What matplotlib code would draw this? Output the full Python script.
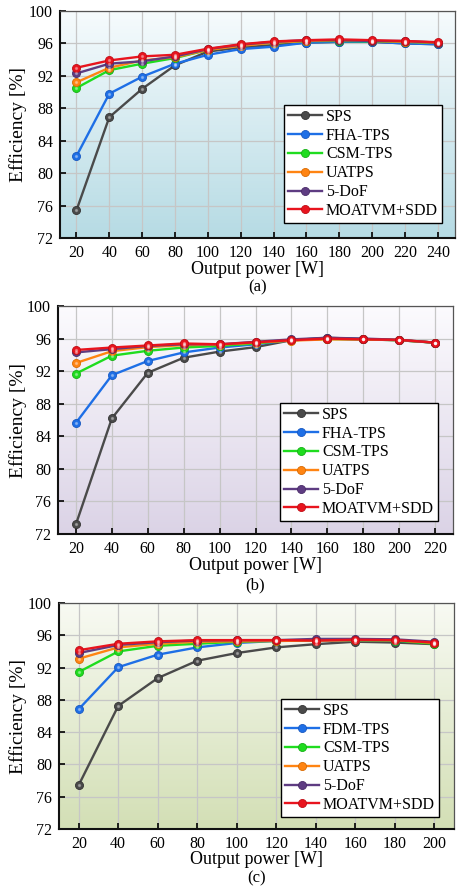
import numpy as np
import matplotlib.pyplot as plt
from matplotlib.colors import LinearSegmentedColormap

plt.rcParams['font.family'] = ['Liberation Serif', 'DejaVu Serif']
plt.rcParams['mathtext.fontset'] = 'stix'

# output power levels for each test
power_a = [20, 40, 60, 80, 100, 120, 140, 160, 180, 200, 220, 240]
power_b = [20, 40, 60, 80, 100, 120, 140, 160, 180, 200, 220]
power_c = [20, 40, 60, 80, 100, 120, 140, 160, 180, 200]

# efficiency [%], test (a)
sps_a = [75.4, 86.9, 90.4, 93.3, 95.0, 95.5, 95.8, 96.1, 96.2, 96.2, 96.0, 95.9]
fha_a = [82.1, 89.8, 91.9, 93.5, 94.6, 95.3, 95.6, 96.1, 96.2, 96.2, 96.0, 95.9]
csm_a = [90.5, 92.7, 93.5, 94.2, 95.2, 95.8, 96.1, 96.3, 96.3, 96.25, 96.2, 96.05]
uat_a = [91.2, 93.0, 93.9, 94.3, 95.2, 95.7, 96.1, 96.3, 96.4, 96.3, 96.2, 96.1]
dof_a = [92.3, 93.5, 93.8, 94.4, 95.3, 95.85, 96.2, 96.4, 96.4, 96.3, 96.3, 96.1]
moa_a = [93.0, 93.9, 94.4, 94.6, 95.35, 95.9, 96.25, 96.4, 96.5, 96.4, 96.3, 96.15]

# efficiency [%], test (b)
sps_b = [73.2, 86.2, 91.8, 93.65, 94.4, 94.95, 95.8, 96.1, 95.95, 95.8, 95.5]
fha_b = [85.65, 91.5, 93.25, 94.3, 94.9, 95.3, 95.8, 96.0, 95.9, 95.8, 95.5]
csm_b = [91.7, 93.9, 94.5, 94.9, 95.1, 95.4, 95.8, 95.95, 95.9, 95.8, 95.5]
uat_b = [93.0, 94.45, 94.95, 95.2, 95.25, 95.5, 95.75, 95.9, 95.9, 95.8, 95.5]
dof_b = [94.3, 94.7, 95.1, 95.3, 95.3, 95.6, 95.9, 96.1, 96.0, 95.85, 95.5]
moa_b = [94.6, 94.9, 95.15, 95.4, 95.3, 95.55, 95.8, 96.0, 95.9, 95.85, 95.5]

# efficiency [%], test (c)
sps_c = [77.45, 87.25, 90.7, 92.85, 93.8, 94.5, 94.9, 95.2, 95.1, 94.9]
fdm_c = [86.85, 92.05, 93.6, 94.5, 95.05, 95.3, 95.35, 95.4, 95.35, 95.1]
csm_c = [91.45, 94.0, 94.7, 94.95, 95.2, 95.3, 95.4, 95.4, 95.35, 94.95]
uat_c = [93.1, 94.5, 94.95, 95.2, 95.25, 95.3, 95.35, 95.4, 95.4, 95.05]
dof_c = [93.8, 94.8, 95.15, 95.35, 95.4, 95.4, 95.55, 95.55, 95.5, 95.2]
moa_c = [94.15, 94.95, 95.25, 95.4, 95.4, 95.4, 95.35, 95.45, 95.4, 95.1]

labels_ab = ['SPS', 'FHA-TPS', 'CSM-TPS', 'UATPS', '5-DoF', 'MOATVM+SDD']
labels_c = ['SPS', 'FDM-TPS', 'CSM-TPS', 'UATPS', '5-DoF', 'MOATVM+SDD']
colors = ['#4a4a4a', '#1e6fe6', '#1fdc1f', '#ff8412', '#5e3c82', '#e8141e']
edges = ['#333333', '#1858c0', '#16b016', '#d86a00', '#4a2c68', '#c00c14']

W, H = 459, 891
fig = plt.figure(figsize=(W / 100, H / 100), dpi=100)


def panel(rect, x, series, labels, bg_top, bg_bot, xmax, tag, leg_anchor,
          xlab_y, tag_y):
    l, r, t, b = rect
    ax = fig.add_axes([l / W, 1 - b / H, (r - l) / W, (b - t) / H])
    cmap = LinearSegmentedColormap.from_list('bg', [bg_bot, bg_top])
    grad = np.linspace(0, 1, 256).reshape(-1, 1)
    ax.imshow(grad, cmap=cmap, aspect='auto', origin='lower',
              extent=[0, 1, 0, 1], transform=ax.transAxes, zorder=0)
    for ys, lab, c, ec in zip(series, labels, colors, edges):
        ax.plot(x, ys, '-', color=c, lw=1.7, label=lab, zorder=3,
                marker='o', ms=5.8, mfc=c, mec=ec, mew=0.6)
        # faint highlight on each marker
        ax.plot(x, ys, ls='none', marker='o', ms=1.4, color='white',
                alpha=0.3, zorder=4)
    ax.set_xlim(10, xmax)
    ax.set_ylim(72, 100)
    ax.set_xticks(x)
    ax.set_yticks(np.arange(72, 101, 4))
    ax.grid(True, color='#c6c6c6', lw=0.9, zorder=1)
    ax.set_axisbelow(True)
    ax.tick_params(direction='in', length=4, width=1.2, labelsize=11.5,
                   colors='black', pad=5)
    for s in ['left', 'bottom']:
        ax.spines[s].set_linewidth(1.5)
        ax.spines[s].set_color('#111111')
    for s in ['top', 'right']:
        ax.spines[s].set_linewidth(0.9)
        ax.spines[s].set_color('#555555')
    ax.set_ylabel('Efficiency [%]', fontsize=14)
    ax.yaxis.set_label_coords((27 - l) / (r - l), 0.5)
    leg = ax.legend(loc='lower right', bbox_to_anchor=leg_anchor,
                    fontsize=11.5, frameon=True, fancybox=False,
                    edgecolor='black', framealpha=1, handlelength=2.1,
                    handletextpad=0.25, labelspacing=0.18, borderpad=0.25,
                    borderaxespad=0)
    leg.get_frame().set_linewidth(1.0)
    leg.set_zorder(10)
    fig.text((l + r) / 2 / W, 1 - xlab_y / H, 'Output power [W]',
             ha='center', va='center', fontsize=13)
    fig.text((l + r) / 2 / W, 1 - tag_y / H, tag, ha='center', va='center',
             fontsize=12)
    return ax


panel((60, 455, 11, 238), power_a,
      [sps_a, fha_a, csm_a, uat_a, dof_a, moa_a], labels_ab,
      '#f6fbfd', '#b6dbe4', 250.4, '(a)', (0.967, 0.066), 269, 287)
panel((58, 453, 306, 534), power_b,
      [sps_b, fha_b, csm_b, uat_b, dof_b, moa_b], labels_ab,
      '#fcfbfe', '#dbd3e6', 230, '(b)', (0.962, 0.057), 566, 585)
panel((59, 454, 603, 829), power_c,
      [sps_c, fdm_c, csm_c, uat_c, dof_c, moa_c], labels_c,
      '#f8faf3', '#d3dfb5', 210, '(c)', (0.962, 0.053), 860, 878)

fig.savefig('out.png', dpi=100)
